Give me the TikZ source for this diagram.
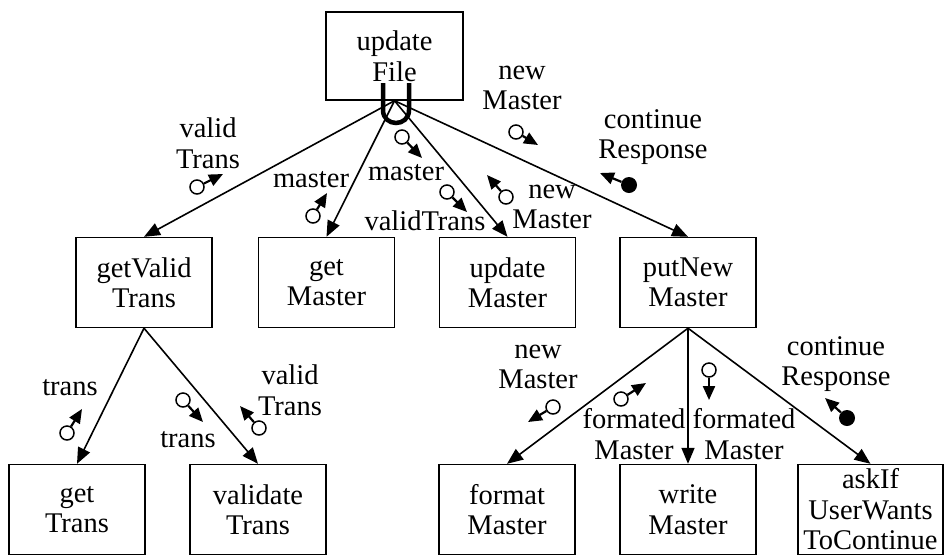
\documentclass[tikz,border=0pt]{standalone}
\usepackage{fontspec}
\setmainfont{Liberation Serif}
\usetikzlibrary{arrows.meta}

\begin{document}
\begin{tikzpicture}[x=1pt,y=-1pt,
    module/.style={draw,line width=1.4pt,minimum width=136pt,minimum height=90pt,inner sep=0pt,align=center,font=\fontsize{28.5}{30.5}\selectfont},
    lbl/.style={align=center,inner sep=0pt,font=\fontsize{28.5}{30.5}\selectfont},
    call/.style={line width=1.6pt,-{Triangle[length=16pt,width=13pt]}},
    datacpl/.style={circle,draw,line width=1.5pt,minimum size=14pt,inner sep=0pt,fill=white},
    flagcpl/.style={circle,fill=black,minimum size=16pt,inner sep=0pt},
    cplarrow/.style={line width=2.2pt,-{Triangle[length=14pt,width=12pt]}}]
            \useasboundingbox (0,0) rectangle (944,558);
            % modules
            \node[module,minimum width=137pt,minimum height=88pt] (updFile) at (394.5,56) {update\\File};
            \node[module] (getVT) at (144,282.5) {getValid\\Trans};
            \node[module] (getM) at (326.5,282.5) {get\\Master};
            \node[module] (updM) at (507.5,282.5) {update\\Master};
            \node[module] (putNM) at (688,282.5) {putNew\\Master};
            \node[module] (getT) at (77,509.5) {get\\Trans};
            \node[module] (valT) at (258,509.5) {validate\\Trans};
            \node[module] (fmtM) at (507,509.5) {format\\Master};
            \node[module] (wrM) at (688,509.5) {write\\Master};
            \node[module,minimum width=145pt] (askIf) at (870.5,509.5) {askIf\\UserWants\\ToContinue};
            % calls
            \draw[call] (updFile.south) -- (getVT.north);
            \draw[call] (updFile.south) -- (getM.north);
            \draw[call] (updFile.south) -- (updM.north);
            \draw[call] (updFile.south) -- (putNM.north);
            \draw[call] (getVT.south) -- (getT.north);
            \draw[call] (getVT.south) -- (valT.north);
            \draw[call] (putNM.south) -- (fmtM.north);
            \draw[call] (putNM.south) -- (wrM.north);
            \draw[call] (putNM.south) -- (askIf.north);
            % loop
            \draw[line width=4.5pt] (383,83) -- (383,110) .. controls (383,127.3) and (409,127.3) .. (409,110) -- (409,83);
            % couples
            \node[lbl] (lVT1) at (208,143) {valid\\Trans};
            \node[datacpl] (cVT1) at (197,187) {};
            \coordinate (tVT1) at (223,174);
            \draw[cplarrow] (cVT1) -- (tVT1);
            \node[lbl] (lM1) at (311,180) {master};
            \node[datacpl] (cM1) at (313,216) {};
            \coordinate (tM1) at (327,193);
            \draw[cplarrow] (cM1) -- (tM1);
            \node[lbl] (lM2) at (406,173) {master};
            \node[datacpl] (cM2) at (402,137) {};
            \coordinate (tM2) at (422,158);
            \draw[cplarrow] (cM2) -- (tM2);
            \node[lbl] (lVT2) at (425,221) {validTrans};
            \node[datacpl] (cVT2) at (447,192) {};
            \coordinate (tVT2) at (467,212);
            \draw[cplarrow] (cVT2) -- (tVT2);
            \node[lbl] (lNM1) at (552,207) {new\\Master};
            \node[datacpl] (cNM1) at (506,197) {};
            \coordinate (tNM1) at (487,175);
            \draw[cplarrow] (cNM1) -- (tNM1);
            \node[lbl] (lNM2) at (522,88) {new\\Master};
            \node[datacpl] (cNM2) at (516,132) {};
            \coordinate (tNM2) at (538,145);
            \draw[cplarrow] (cNM2) -- (tNM2);
            \node[lbl] (lCR1) at (653,137) {continue\\Response};
            \node[flagcpl] (cCR1) at (629,185) {};
            \coordinate (tCR1) at (600,173);
            \draw[cplarrow] (cCR1) -- (tCR1);
            \node[lbl] (lT1) at (70,388) {trans};
            \node[datacpl] (cT1) at (67,433) {};
            \coordinate (tT1) at (82,409);
            \draw[cplarrow] (cT1) -- (tT1);
            \node[lbl] (lT2) at (188,440) {trans};
            \node[datacpl] (cT2) at (183,400) {};
            \coordinate (tT2) at (203,422);
            \draw[cplarrow] (cT2) -- (tT2);
            \node[lbl] (lVT3) at (290,390) {valid\\Trans};
            \node[datacpl] (cVT3) at (259,428) {};
            \coordinate (tVT3) at (240,406);
            \draw[cplarrow] (cVT3) -- (tVT3);
            \node[lbl] (lNM3) at (538,367) {new\\Master};
            \node[datacpl] (cNM3) at (553,407) {};
            \coordinate (tNM3) at (528,422);
            \draw[cplarrow] (cNM3) -- (tNM3);
            \node[lbl] (lFM1) at (634,434) {formated\\Master};
            \node[datacpl] (cFM1) at (621,399) {};
            \coordinate (tFM1) at (646,383);
            \draw[cplarrow] (cFM1) -- (tFM1);
            \node[lbl] (lFM2) at (744,434) {formated\\Master};
            \node[datacpl] (cFM2) at (709,370) {};
            \coordinate (tFM2) at (709,400);
            \draw[cplarrow] (cFM2) -- (tFM2);
            \node[lbl] (lCR2) at (836,364) {continue\\Response};
            \node[flagcpl] (cCR2) at (847,418) {};
            \coordinate (tCR2) at (825,398);
            \draw[cplarrow] (cCR2) -- (tCR2);
        \end{tikzpicture}
\end{document}
